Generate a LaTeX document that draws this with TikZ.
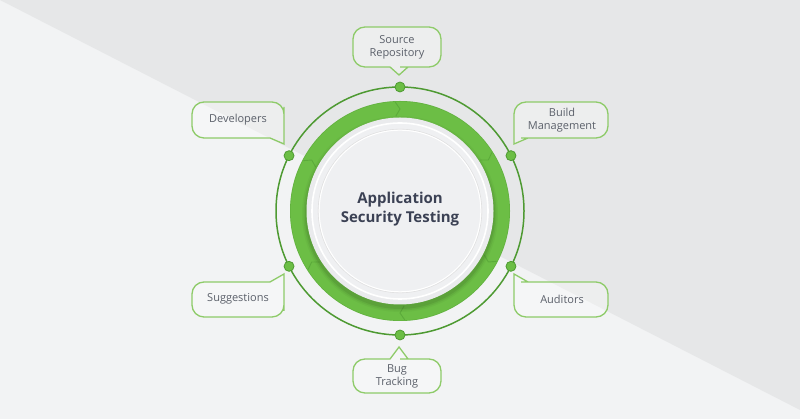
\documentclass[tikz,border=0pt]{standalone}
\usepackage{fontspec}
\setmainfont{Open Sans}
\usetikzlibrary{calc}

\definecolor{ringgreen}{HTML}{6CBE45}
\definecolor{ringdark}{HTML}{4E9A32}
\definecolor{bubbleline}{HTML}{8ECB69}
\definecolor{bgdark}{HTML}{E6E7E8}
\definecolor{bglight}{HTML}{F2F3F4}
\definecolor{textgrey}{HTML}{5B606A}
\definecolor{titleblue}{HTML}{3B4154}
\definecolor{diskfill}{HTML}{EAEBED}
\definecolor{diskinner}{HTML}{EFF0F2}

\begin{document}
\begin{tikzpicture}[
  x=1pt, y=1pt,
  % Styles
  label/.style={font=\fontsize{11}{13}\selectfont, text=textgrey, align=center, inner sep=0pt},
  title/.style={font=\fontsize{15}{19}\selectfont\bfseries, text=titleblue, align=center},
  bubble/.style={draw=bubbleline, line width=1.3pt, fill=white, fill opacity=0.3, rounded corners=12pt},
  dot/.style={circle, fill=ringgreen, draw=ringdark, line width=0.8pt, inner sep=0pt, minimum size=10pt},
  chev/.style={draw=ringdark, line width=0.9pt, opacity=0.55},
]
  \useasboundingbox (0,0) rectangle (800,419);

  % ── BACKGROUND ────────────────────────────────────────────
  \fill[bglight] (0,0) rectangle (800,419);
  \fill[bgdark] (0,419) -- (800,419) -- (800,9) -- cycle;

  % ── CYCLE RING ────────────────────────────────────────────
  \begin{scope}[shift={(400,208)}]
    \draw[ringdark, line width=1.5pt] (0,0) circle (124);
    \fill[ringgreen] (0,0) circle (110);
    \draw[ringdark, line width=0.6pt, opacity=0.35] (0,0) circle (109.7);
    % Segment joints
    \foreach \a in {90,30,-30,-90,-150,150}
      \draw[chev] (\a+2.5:109) -- (\a:102) -- (\a+2.5:95);
    % Disk shadow
    \foreach \r/\o in {98/0.03, 96.5/0.05, 95/0.07}
      \fill[black, opacity=\o] (0,-3) circle (\r);
    % Centre disk
    \fill[diskfill] (0,0) circle (93.5);
    \draw[white, line width=1.6pt, fill=diskinner] (0,0) circle (88);
    \draw[black!12, line width=0.6pt] (0,0) circle (81.8);
    \draw[white, line width=1pt] (0,0) circle (80.8);
    % Connection dots
    \foreach \a [count=\i] in {90,26.5,-26.5,-90,-153.5,153.5}
      \node[dot] (dot\i) at (\a:124) {};
  \end{scope}

  \node[title] (ast) at (400,210) {Application\\Security Testing};

  % ── CALLOUTS ──────────────────────────────────────────────
  % Source Repository (top)
  \draw[bubble] (397,392) -| (441,352) -- (412,352) [sharp corners] -- (408,352) -- (399,344) -- (390,352) -- (386,352) [rounded corners=12pt] -| (353,392) -- cycle;
  \node[label] (srcrepo) at (397,372) {Source\\Repository};

  % Developers (upper left)
  \draw[bubble] (238,317) -| (284,300) [sharp corners] -- (284,275) -- (270,281) -- (265,281) [rounded corners=12pt] -| (192,317) -- cycle;
  \node[label] (devs) at (238,299) {Developers};

  % Build Management (upper right)
  \draw[bubble] (561,317) -| (608,281) -- (533,281) [sharp corners] -- (528,281) -- (514,275) -- (514,300) [rounded corners=12pt] |- (545,317) -- cycle;
  \node[label] (build) at (562,299) {Build\\Management};

  % Suggestions (lower left)
  \draw[bubble] (238,102) -| (284,120) [sharp corners] -- (284,145) -- (270,137) -- (265,137) [rounded corners=12pt] -| (192,102) -- cycle;
  \node[label] (sugg) at (238,120) {Suggestions};

  % Auditors (lower right)
  \draw[bubble] (561,102) -| (608,137) -- (533,137) [sharp corners] -- (528,137) -- (514,145) -- (514,120) [rounded corners=12pt] |- (545,102) -- cycle;
  \node[label] (audit) at (562,120) {Auditors};

  % Bug Tracking (bottom)
  \draw[bubble] (397,26) -| (441,60) -- (412,60) [sharp corners] -- (408,60) -- (399,72) -- (390,60) -- (386,60) [rounded corners=12pt] -| (353,26) -- cycle;
  \node[label] (bugs) at (397,43) {Bug\\Tracking};

\end{tikzpicture}
\end{document}
